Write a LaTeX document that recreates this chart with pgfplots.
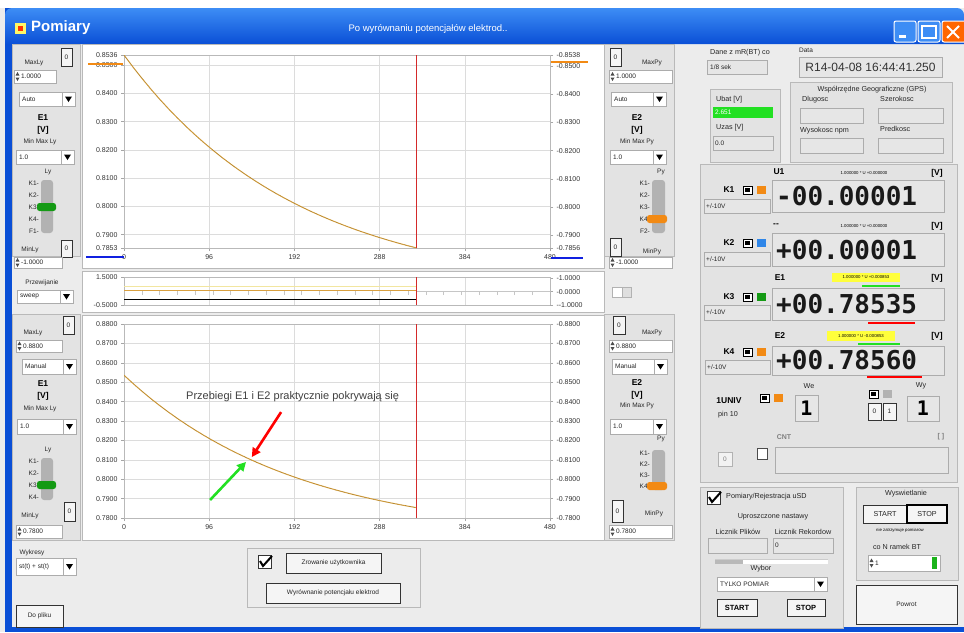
\documentclass[border=0pt]{standalone}
\usepackage{fontspec}
\setmainfont{Liberation Sans}
\newfontfamily\lcd{DejaVu Sans Mono}
\usepackage{pgfplots}
\usepackage{pgfplotstable}
\pgfplotsset{compat=1.18}
\usetikzlibrary{arrows.meta}

\definecolor{bg}{HTML}{ECECEC}
\definecolor{pan}{HTML}{E3E3E3}
\definecolor{gridc}{HTML}{DCDCDC}
\definecolor{cgold}{HTML}{D9A040}
\definecolor{cdark}{HTML}{6B6428}
\definecolor{kor}{HTML}{F28A14}
\definecolor{kbl}{HTML}{2F86E8}
\definecolor{kgr}{HTML}{149A14}
\definecolor{xpblue}{HTML}{0A4FD6}
\definecolor{xplight}{HTML}{3D8DF5}
\definecolor{hl}{HTML}{FFFF3C}
\definecolor{lcdbg}{HTML}{E6E6E6}
\definecolor{agreen}{HTML}{22E022}
\definecolor{ublue}{HTML}{1020E0}
\definecolor{cursorred}{HTML}{D42A2A}
\definecolor{lyel}{HTML}{F2E6A0}

\tikzset{
 pnl/.style={draw=gray!55, fill=pan},
 fld/.style={draw=gray!65, fill=white},
 fldg/.style={draw=gray!65, fill=lcdbg},
 btn/.style={draw=black!80, fill=white!92!gray},
 t/.style={font=\fontsize{6.5}{7}\selectfont, inner sep=0pt, text=black!85},
 ts/.style={font=\fontsize{7.2}{8}\selectfont, inner sep=0pt, text=black!85},
 tb/.style={font=\fontsize{8.5}{9}\selectfont\bfseries, inner sep=0pt},
 tiny/.style={font=\fontsize{4.3}{5}\selectfont, inner sep=0.6pt},
 lcdt/.style={font=\lcd\fontsize{26}{26}\selectfont\bfseries, inner sep=0pt, anchor=west, text=black!90},
}
\newcommand{\dd}[5]{%
 \draw[fld] (#1,#2) rectangle (#3,#4);
 \draw[gray!65] ({#3-13},#2) -- ({#3-13},#4);
 \fill[black] ({#3-10},{(#2+#4)/2-2.5}) -- ({#3-3},{(#2+#4)/2-2.5}) -- ({#3-6.5},{(#2+#4)/2+3}) -- cycle;
 \node[t, anchor=west] at ({#1+3},{(#2+#4)/2}) {#5};}
\newcommand{\spin}[5]{%
 \draw[fld] (#1,#2) rectangle (#3,#4);
 \fill[black!70] ({#1+1.5},{(#2+#4)/2-1}) -- ({#1+5.5},{(#2+#4)/2-1}) -- ({#1+3.5},{(#2+#4)/2-4.5}) -- cycle;
 \fill[black!70] ({#1+1.5},{(#2+#4)/2+1}) -- ({#1+5.5},{(#2+#4)/2+1}) -- ({#1+3.5},{(#2+#4)/2+4.5}) -- cycle;
 \node[t, anchor=west] at ({#1+7},{(#2+#4)/2}) {#5};}
\newcommand{\zbox}[4]{%
 \draw[btn] (#1,#2) rectangle (#3,#4);
 \node[t] at ({(#1+#3)/2},{(#2+#4)/2}) {0};}
\newcommand{\cbx}[3]{%
 \draw[black, fill=white] (#1,#2) rectangle ({#1+9},{#2+8});
 \fill[black] ({#1+2},{#2+2}) rectangle ({#1+6.5},{#2+5.5});
 \fill[#3] ({#1+14},#2) rectangle ({#1+23},{#2+8});}
\newcommand{\chk}[2]{%
 \draw[black!80, fill=white] (#1,#2) rectangle ({#1+13},{#2+13});
 \draw[black, line width=2pt] ({#1+2},{#2+6}) -- ({#1+5},{#2+11}) -- ({#1+14},{#2+1});}

\pgfplotsset{
 lvbase/.style={scale only axis, width=426pt, xmin=0, xmax=480, anchor=south west,
   axis line style={gray!55, line width=0.5pt},
   tick style={gray!70, line width=0.5pt}, tick align=outside, major tick length=3pt,
   ticklabel style={font=\fontsize{7}{8}\selectfont, text=black!80},
   /pgf/number format/assume math mode=true,
   scaled y ticks=false, scaled x ticks=false},
 lv/.style={lvbase, xtick={0,96,192,288,384,480}, xtick pos=bottom, ytick pos=left,
   axis background/.style={fill=white},
   grid=major, major grid style={gridc, line width=0.5pt},
   yticklabel style={/pgf/number format/fixed, /pgf/number format/fixed zerofill, /pgf/number format/precision=4}},
 lvr/.style={lvbase, axis x line=none, axis y line*=right, ytick pos=right},
}

\begin{document}
\pgfplotstableread{
x y
0 0.85360
10 0.84940
20 0.84542
30 0.84163
40 0.83803
50 0.83462
60 0.83137
70 0.82829
80 0.82537
90 0.82259
100 0.81995
110 0.81744
120 0.81506
130 0.81280
140 0.81065
150 0.80861
160 0.80667
170 0.80483
180 0.80309
190 0.80143
200 0.79985
210 0.79835
220 0.79693
230 0.79558
240 0.79430
250 0.79308
260 0.79192
270 0.79082
280 0.78978
290 0.78879
300 0.78785
310 0.78695
320 0.78610
330 0.78530
}\decay
\begin{tikzpicture}
\useasboundingbox (0pt,0pt) rectangle (964pt,-632pt);
\begin{scope}[x=1pt,y=-1pt]
% background and window frame
\fill[bg] (0,0) rectangle (964,632);
\fill[white] (0,0) rectangle (964,8);
\fill[xpblue] (5,8) rectangle (12,632);
\fill[xpblue] (5,627) rectangle (964,632);
\shade[top color=xplight, bottom color=xpblue] (5,44) [rounded corners=7pt] -- (5,8) -- (964,8) [sharp corners] -- (964,44) -- cycle;
\fill[yellow!60!white] (15,23) rectangle (26,34);
\fill[red!60!orange] (18,26) rectangle (23,31);
\node[white, font=\fontsize{15}{16}\selectfont\bfseries, anchor=west, inner sep=0pt] at (31,28) {Pomiary};
\node[white, font=\fontsize{9.5}{10}\selectfont, inner sep=0pt] at (428,29) {Po wyrównaniu potencjałów elektrod..};
% window buttons
\draw[white, fill=xplight, rounded corners=2pt, line width=1pt] (894,21) rectangle (916,42);
\fill[white] (899,35) rectangle (906,38);
\draw[white, fill=xplight, rounded corners=2pt, line width=1pt] (918,21) rectangle (940,42);
\draw[white, line width=1.2pt] (922,26) rectangle (936,38);
\draw[white, fill=orange!80!red, rounded corners=2pt, line width=1pt] (942,21) rectangle (966,42);
\draw[white, line width=2pt] (947,26) -- (959,38) (959,26) -- (947,38);
% plot areas
\fill[white] (82,44) rectangle (604,268);
\fill[white] (82,271) rectangle (604,312);
\fill[white] (82,315) rectangle (604,540);
\draw[gray!55] (82,44) rectangle (604,268);
\draw[gray!55] (82,271) rectangle (604,312);
\draw[gray!55] (82,315) rectangle (604,540);
% ---- top-left panel
\draw[pnl] (12,44) rectangle (80,256);
\node[t] at (34,63) {MaxLy};
\zbox{61}{48}{72}{66}
\spin{14}{70}{56}{83}{1.0000}
\dd{19}{92}{75}{106}{Auto}
\node[tb] at (43,118) {E1};
\node[tb] at (43,130) {[V]};
\node[t] at (40,142) {Min Max Ly};
\dd{16}{150}{74}{164}{1.0}
\node[t] at (48,172) {Ly};
\fill[gray!60, rounded corners=3pt] (41,180) rectangle (53,233);
\foreach \k/\yy in {K1-/183,K2-/195,K3-/207,K4-/219,F1-/231} \node[t, anchor=east] at (39,\yy) {\k};
\fill[kgr, rounded corners=2.5pt] (37,203) rectangle (56,211);
\zbox{61}{240}{72}{257}
\node[t] at (30,250) {MinLy};
\spin{14}{257}{62}{268}{-1.0000}
% ---- top-right panel
\draw[pnl] (604,44) rectangle (674,256);
\zbox{610}{48}{621}{66}
\node[t] at (652,63) {MaxPy};
\spin{609}{70}{672}{83}{1.0000}
\dd{611}{92}{666}{106}{Auto}
\node[tb] at (637,118) {E2};
\node[tb] at (637,130) {[V]};
\node[t] at (637,142) {Min Max Py};
\dd{610}{150}{666}{164}{1.0}
\node[t] at (661,172) {Py};
\fill[gray!60, rounded corners=3pt] (652,180) rectangle (665,233);
\foreach \k/\yy in {K1-/183,K2-/195,K3-/207,K4-/219,F2-/231} \node[t, anchor=east] at (650,\yy) {\k};
\fill[kor, rounded corners=2.5pt] (647,215) rectangle (667,223);
\zbox{610}{238}{621}{256}
\node[t] at (652,252) {MinPy};
\spin{609}{257}{672}{268}{-1.0000}
% ---- middle row
\node[t] at (42,283) {Przewijanie};
\dd{17}{290}{73}{303}{sweep}
\draw[gray!60, fill=white] (612,287) rectangle (622,297);
\draw[gray!60, fill=gray!25] (622,287) rectangle (631,297);
% ---- bottom-left panel
\draw[pnl] (12,314) rectangle (80,540);
\zbox{63}{316}{74}{334}
\node[t] at (33,333) {MaxLy};
\spin{16}{340}{62}{352}{0.8800}
\dd{22}{359}{76}{374}{Manual}
\node[tb] at (43,384) {E1};
\node[tb] at (43,396) {[V]};
\node[t] at (40,409) {Min Max Ly};
\dd{17}{419}{76}{434}{1.0}
\node[t] at (48,450) {Ly};
\fill[gray!60, rounded corners=3pt] (41,458) rectangle (53,500);
\foreach \k/\yy in {K1-/461,K2-/473,K3-/485,K4-/497} \node[t, anchor=east] at (39,\yy) {\k};
\fill[kgr, rounded corners=2.5pt] (37,481) rectangle (56,489);
\zbox{64}{502}{75}{521}
\node[t] at (30,516) {MinLy};
\spin{16}{525}{62}{538}{0.7800}
\node[t] at (32,553) {Wykresy};
\dd{16}{558}{76}{575}{st(t) + st(t)}
\draw[btn] (16,605) rectangle (63,627);
\node[t] at (39.5,616) {Do pliku};
% ---- bottom-right panel
\draw[pnl] (604,314) rectangle (674,540);
\zbox{613}{316}{625}{334}
\node[t] at (652,333) {MaxPy};
\spin{609}{340}{672}{352}{0.8800}
\dd{612}{359}{667}{374}{Manual}
\node[tb] at (637,383) {E2};
\node[tb] at (637,395) {[V]};
\node[t] at (637,406) {Min Max Py};
\dd{610}{419}{666}{434}{1.0}
\node[t] at (661,439) {Py};
\fill[gray!60, rounded corners=3pt] (652,450) rectangle (665,490);
\foreach \k/\yy in {K1-/453,K2-/464,K3-/475,K4-/486} \node[t, anchor=east] at (650,\yy) {\k};
\fill[kor, rounded corners=2.5pt] (647,482) rectangle (667,490);
\zbox{612}{500}{623}{522}
\node[t] at (654,514) {MinPy};
\spin{609}{525}{672}{538}{0.7800}
% ---- bottom centre panel
\draw[gray!55] (247,548) rectangle (420,607);
\chk{258}{555}
\draw[btn] (286,553) rectangle (381,573);
\node[t] at (333.5,563) {Zrowanie użytkownika};
\draw[btn] (266,583) rectangle (400,603);
\node[t] at (333,593) {Wyrównanie potencjału elektrod};
% ---- right side: top info
\node[ts] at (740,53) {Dane z mR(BT) co};
\draw[fldg] (707,60) rectangle (767,74);
\node[t, anchor=west] at (710,67) {1/8 sek};
\node[t] at (806,50) {Data};
\draw[fldg] (799,57) rectangle (942,77);
\node[font=\fontsize{12}{13}\selectfont, inner sep=0pt, text=black!80] at (870.5,67) {R14-04-08 16:44:41.250};
\draw[pnl] (710,89) rectangle (780,162);
\node[ts, anchor=west] at (716,100) {Ubat [V]};
\fill[agreen] (713,107) rectangle (773,118);
\node[t, anchor=west, text=white] at (715,112.5) {2.651};
\node[ts, anchor=west] at (716,128) {Uzas [V]};
\draw[fldg] (713,136) rectangle (773,150);
\node[t, anchor=west] at (715,143) {0.0};
\draw[pnl] (790,82) rectangle (952,162);
\node[ts] at (872,90) {Współrzędne Geograficzne (GPS)};
\node[ts, anchor=west] at (802,100) {Dlugosc};
\node[ts, anchor=west] at (880,99) {Szerokosc};
\draw[fldg] (800,108) rectangle (863,123);
\draw[fldg] (878,108) rectangle (943,123);
\node[ts, anchor=west] at (800,131) {Wysokosc npm};
\node[ts, anchor=west] at (880,129) {Predkosc};
\draw[fldg] (800,138) rectangle (863,153);
\draw[fldg] (878,138) rectangle (943,153);
% ---- channels panel
\draw[pnl] (700,164) rectangle (957,482);
% K1
\node[tb] at (779,172) {U1};
\node[tiny] at (864,173) {1.000000 * U +0.000000};
\node[tb] at (937,173) {[V]};
\node[tb] at (729,190) {K1};
\cbx{743}{186}{kor}
\draw[fldg] (704,199) rectangle (770,213);
\node[t, anchor=west] at (706,206) {+/-10V};
\draw[fldg] (772,180) rectangle (944,212);
\node[lcdt] at (776,196.5) {-00.00001};
% K2
\node[tb] at (776,225) {-{}-};
\node[tiny] at (864,226) {1.000000 * U +0.000000};
\node[tb] at (937,226) {[V]};
\node[tb] at (729,243) {K2};
\cbx{743}{239}{kbl}
\draw[fldg] (704,252) rectangle (770,266);
\node[t, anchor=west] at (706,259) {+/-10V};
\draw[fldg] (772,233) rectangle (944,266);
\node[lcdt] at (776,250) {+00.00001};
% K3
\node[tb] at (780,278) {E1};
\fill[hl] (832,273) rectangle (900,282);
\node[tiny] at (866,277.5) {1.000000 * U +0.000853};
\draw[agreen, line width=2.2pt] (862,286) -- (900,286);
\node[tb] at (937,278) {[V]};
\node[tb] at (729,297) {K3};
\cbx{743}{293}{kgr}
\draw[fldg] (704,305) rectangle (770,320);
\node[t, anchor=west] at (706,312.5) {+/-10V};
\draw[fldg] (772,288) rectangle (944,320);
\node[lcdt] at (776,304) {+00.78535};
\draw[red, line width=2.6pt] (868,323) -- (915,323);
% K4
\node[tb] at (780,336) {E2};
\fill[hl] (827,331) rectangle (895,341);
\node[tiny] at (861,336) {1.000000 * U -0.000853};
\draw[agreen, line width=2.2pt] (858,344) -- (900,344);
\node[tb] at (937,336) {[V]};
\node[tb] at (729,352) {K4};
\cbx{743}{348}{kor}
\draw[fldg] (705,360) rectangle (770,374);
\node[t, anchor=west] at (707,367) {+/-10V};
\draw[fldg] (772,346) rectangle (944,375);
\node[lcdt] at (776,360.5) {+00.78560};
\draw[red, line width=2.6pt] (867,377) -- (922,377);
% 1UNIV
\node[ts] at (809,386) {We};
\node[tb] at (729,401) {1UNIV};
\node[ts] at (728,415) {pin 10};
\cbx{760}{394}{kor}
\draw[fldg] (795,395) rectangle (818,421);
\node[font=\lcd\fontsize{20}{20}\selectfont\bfseries, inner sep=0pt] at (806.5,408) {1};
\cbx{869}{390}{gray!60}
\draw[btn] (868,403) rectangle (881,420);
\node[t] at (874.5,411.5) {0};
\draw[btn] (883,403) rectangle (896,420);
\node[t] at (889.5,411.5) {1};
\node[ts] at (921,386) {Wy};
\draw[fldg] (907,396) rectangle (939,421);
\node[font=\lcd\fontsize{20}{20}\selectfont\bfseries, inner sep=0pt] at (923,408.5) {1};
\node[font=\fontsize{7}{8}\selectfont\bfseries, text=gray, inner sep=0pt] at (784,437) {CNT};
\node[font=\fontsize{7}{8}\selectfont\bfseries, text=gray, inner sep=0pt] at (941,437) {[ ]};
\draw[gray!60, fill=gray!10] (718,452) rectangle (732,466);
\node[t, text=gray] at (725,459) {0};
\draw[black!70, fill=white] (757,448) rectangle (767,459);
\draw[fldg] (775,447) rectangle (948,473);
% ---- Pomiary / Rejestracja panel
\draw[pnl] (700,487) rectangle (843,628);
\chk{707}{491}
\node[ts, anchor=west] at (726,497) {Pomiary/Rejestracja uSD};
\node[ts] at (773,517) {Uproszczone nastawy};
\node[ts] at (738,532) {Licznik Plików};
\node[ts] at (803,532) {Licznik Rekordow};
\draw[fldg] (708,538) rectangle (767,553);
\draw[fldg] (773,538) rectangle (833,553);
\node[t, anchor=west] at (775,545.5) {0};
\fill[white] (715,559) rectangle (828,564);
\fill[gray!55] (715,559) rectangle (743,564);
\draw[gray!40] (715,559) -- (828,559);
\node[ts] at (761,569) {Wybor};
\dd{717}{577}{827}{591}{TYLKO POMIAR}
\draw[btn] (717,599) rectangle (757,616);
\node[font=\fontsize{7.5}{8}\selectfont\bfseries, inner sep=0pt] at (737,607.5) {START};
\draw[btn] (787,599) rectangle (825,616);
\node[font=\fontsize{7.5}{8}\selectfont\bfseries, inner sep=0pt] at (806,607.5) {STOP};
% ---- Wyswietlanie panel
\draw[pnl] (856,487) rectangle (958,580);
\node[ts] at (906,494) {Wyswietlanie};
\draw[btn] (863,505) rectangle (907,523);
\node[ts] at (885,514) {START};
\draw[black, fill=white!92!gray, line width=1.2pt] (907,505) rectangle (947,523);
\node[ts] at (927,514) {STOP};
\node[tiny] at (900,530) {nie zatrzymuje pomiarow};
\node[ts] at (897,547) {co N ramek BT};
\spin{868}{555}{940}{571}{1}
\fill[agreen!80!black] (932,557) rectangle (937,569);
\draw[btn] (856,585) rectangle (957,624);
\node[t] at (906.5,604.5) {Powrot};
\end{scope}

% ================= plots =================
% top plot
\begin{axis}[lv, at={(124pt,-248pt)}, height=193pt,
  ymin=0.7853, ymax=0.8536,
  ytick={0.7853,0.79,0.80,0.81,0.82,0.83,0.84,0.85,0.8536}]
\addplot[cgold, line width=1.0pt] table {\decay};
\addplot[cdark, line width=0.35pt, densely dotted] table {\decay};
\addplot[draw=cursorred, line width=0.9pt] coordinates {(330,0.7853) (330,0.8536)};
\end{axis}
\begin{axis}[lvr, at={(124pt,-248pt)}, height=193pt,
  ymin=0.7856, ymax=0.8538,
  ytick={0.7856,0.79,0.80,0.81,0.82,0.83,0.84,0.85,0.8538},
  yticklabels={-0.7856,-0.7900,-0.8000,-0.8100,-0.8200,-0.8300,-0.8400,-0.8500,-0.8538}]
\end{axis}
% middle plot
\begin{axis}[lv, at={(124pt,-305pt)}, height=28pt,
  ymin=-0.5, ymax=1.5, ytick={-0.5,1.5}, xticklabels={}, xmajorgrids, ymajorgrids=false,
  x tick style={draw=none}, unbounded coords=jump]
\addplot[gray!45, line width=0.5pt] coordinates {
(20,0.21)(20,0.5)(20,nan)(40,0.21)(40,0.5)(40,nan)(60,0.21)(60,0.5)(60,nan)
(80,0.21)(80,0.5)(80,nan)(100,0.21)(100,0.5)(100,nan)(120,0.21)(120,0.5)(120,nan)
(140,0.21)(140,0.5)(140,nan)(160,0.21)(160,0.5)(160,nan)(180,0.21)(180,0.5)(180,nan)
(200,0.21)(200,0.5)(200,nan)(220,0.21)(220,0.5)(220,nan)(240,0.21)(240,0.5)(240,nan)
(260,0.21)(260,0.5)(260,nan)(280,0.21)(280,0.5)(280,nan)(300,0.21)(300,0.5)(300,nan)
(320,0.21)(320,0.5)(320,nan)(340,0.21)(340,0.5)(340,nan)(360,0.21)(360,0.5)(360,nan)
(380,0.21)(380,0.5)(380,nan)(400,0.21)(400,0.5)(400,nan)(420,0.21)(420,0.5)(420,nan)
(440,0.21)(440,0.5)(440,nan)(460,0.21)(460,0.5)};
\addplot[gray!45, line width=0.5pt] coordinates {(330,0.5)(480,0.5)};
\addplot[lyel, line width=0.9pt] coordinates {(0,0.79)(330,0.79)};
\addplot[cgold, line width=0.9pt] coordinates {(0,0.57)(330,0.57)};
\addplot[black, line width=0.6pt] coordinates {(0,-0.07)(330,-0.07)};
\addplot[draw=cursorred, line width=0.9pt] coordinates {(330,-0.5)(330,1.5)};
\end{axis}
\begin{axis}[lvr, at={(124pt,-305pt)}, height=28pt,
  ymin=-1, ymax=1.1, ytick={-1,0,1},
  yticklabels={-{}-1.0000,-0.0000,-1.0000}]
\end{axis}
% bottom plot
\begin{axis}[lv, at={(124pt,-518pt)}, height=194pt,
  ymin=0.78, ymax=0.88,
  ytick={0.78,0.79,0.80,0.81,0.82,0.83,0.84,0.85,0.86,0.87,0.88}]
\addplot[cgold, line width=1.0pt] table {\decay};
\addplot[cdark, line width=0.35pt, densely dotted] table {\decay};
\addplot[draw=cursorred, line width=0.9pt] coordinates {(330,0.78) (330,0.88)};
\node[font=\fontsize{11}{12}\selectfont, text=black!75, inner sep=0pt] at (axis cs:190,0.8424) {Przebiegi E1 i E2 praktycznie pokrywają się};
\draw[-{Triangle[length=9pt,width=9pt]}, line width=2.6pt, red] (axis cs:177,0.8346) -- (axis cs:144,0.8114);
\draw[-{Triangle[length=9pt,width=9pt]}, line width=2.6pt, agreen] (axis cs:97,0.7893) -- (axis cs:137.5,0.8089);
\end{axis}
\begin{axis}[lvr, at={(124pt,-518pt)}, height=194pt,
  ymin=0.78, ymax=0.88,
  ytick={0.78,0.79,0.80,0.81,0.82,0.83,0.84,0.85,0.86,0.87,0.88},
  yticklabels={-0.7800,-0.7900,-0.8000,-0.8100,-0.8200,-0.8300,-0.8400,-0.8500,-0.8600,-0.8700,-0.8800}]
\end{axis}

% marker strokes over the axis labels
\begin{scope}[x=1pt,y=-1pt]
\draw[kor, line width=2.6pt] (88,64) -- (123,64);
\draw[kor, line width=2.6pt] (551,62) -- (588,62);
\draw[ublue, line width=2.6pt] (86,257) -- (124,257);
\draw[ublue, line width=2.6pt] (551,258) -- (583,258);
\end{scope}
\end{tikzpicture}
\end{document}
